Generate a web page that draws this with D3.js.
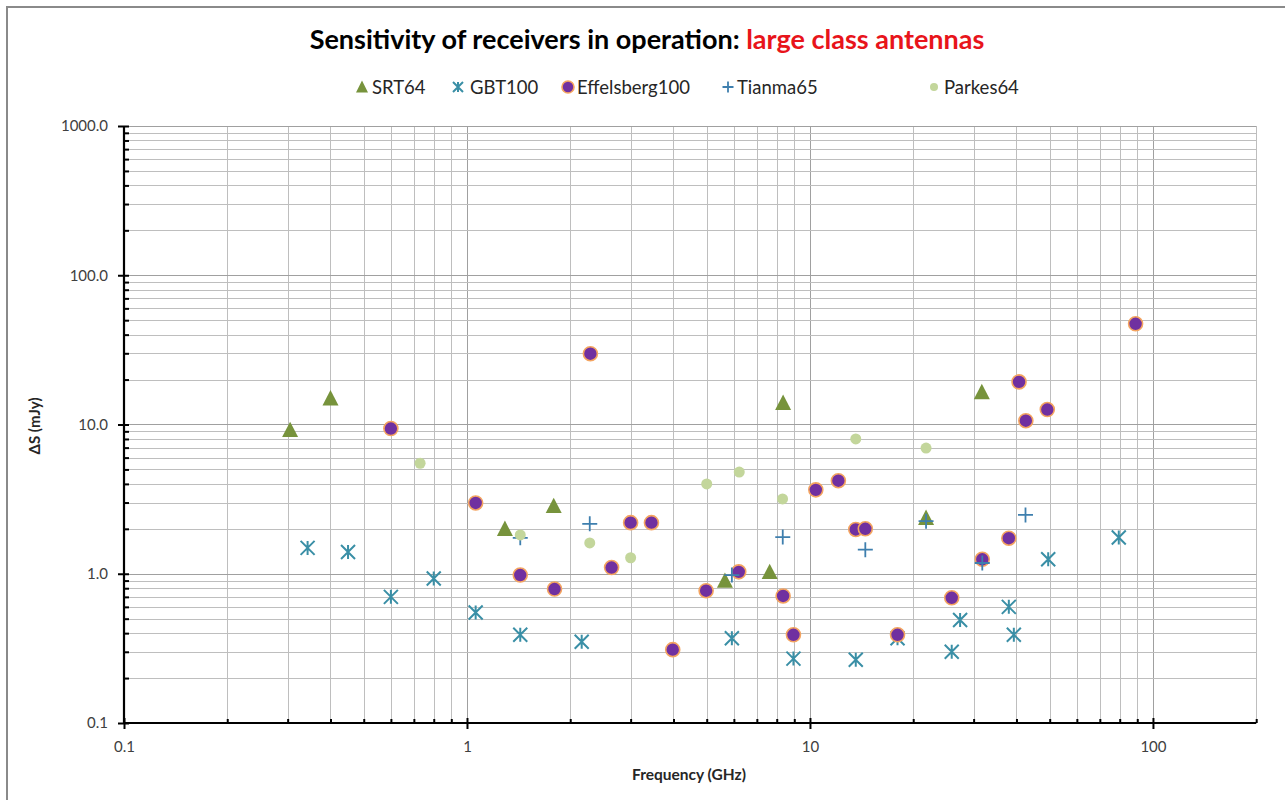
<!DOCTYPE html>
<html>
<head>
<meta charset="utf-8">
<script src="https://cdn.jsdelivr.net/npm/d3@7"></script>
<style>
  html, body { margin: 0; padding: 0; background: #fff; }
  svg { display: block; }
  text { font-family: Lato, "Open Sans", sans-serif; }
</style>
</head>
<body>
<svg id="chart" width="1285" height="800"></svg>
<script>
// ---------------- data (frequency GHz, sensitivity mJy) ----------------
const srt64 = [
  [0.305, 9.2], [0.40, 15.0], [1.29, 2.0], [1.79, 2.85], [5.65, 0.90],
  [7.63, 1.03], [8.35, 14.0], [21.8, 2.37], [31.7, 16.5]
];
const gbt100 = [
  [0.343, 1.49], [0.45, 1.40], [0.60, 0.70], [0.80, 0.93], [1.06, 0.55],
  [1.43, 0.39], [2.16, 0.35], [5.92, 0.37], [8.95, 0.27], [13.6, 0.265],
  [18.0, 0.37], [25.9, 0.30], [27.4, 0.49], [38.0, 0.60], [39.3, 0.39],
  [49.5, 1.25], [79.5, 1.75]
];
const effelsberg100 = [
  [0.60, 9.4], [1.06, 2.98], [1.43, 0.98], [1.80, 0.79], [2.29, 29.8],
  [2.64, 1.10], [3.00, 2.20], [3.45, 2.20], [3.98, 0.31], [4.98, 0.77],
  [6.20, 1.03], [8.35, 0.71], [8.95, 0.39], [10.4, 3.65], [12.1, 4.2],
  [13.6, 1.98], [14.5, 2.0], [18.0, 0.39], [25.9, 0.69], [31.8, 1.25],
  [38.0, 1.73], [40.7, 19.3], [42.6, 10.6], [49.2, 12.6], [89.0, 47.3]
];
const tianma65 = [
  [1.43, 1.74], [2.28, 2.16], [5.92, 0.98], [8.33, 1.76], [14.5, 1.45],
  [21.8, 2.25], [31.8, 1.18], [42.5, 2.48]
];
const parkes64 = [
  [0.73, 5.5], [1.43, 1.82], [2.28, 1.61], [3.00, 1.28], [5.00, 4.0],
  [6.22, 4.8], [8.32, 3.17], [13.6, 8.0], [21.8, 6.95]
];
const seriesNames = ["SRT64", "GBT100", "Effelsberg100", "Tianma65", "Parkes64"];
const xTickValues = [0.1, 1, 10, 100];
const xTickLabels = ["0.1", "1", "10", "100"];
const yTickValues = [0.1, 1, 10, 100, 1000];
const yTickLabels = ["0.1", "1.0", "10.0", "100.0", "1000.0"];
const titleMain = "Sensitivity of receivers in operation: ";
const titleRed = "large class antennas";
const xLabel = "Frequency (GHz)";
const yLabel = "\u0394S (mJy)";

// ---------------- layout ----------------
const svg = d3.select("#chart");
const pLeft = 124, pRight = 1256.2, pTop = 126, pBottom = 723;
const x = d3.scaleLog().domain([0.1, 200]).range([pLeft, pRight]);
const y = d3.scaleLog().domain([0.1, 1000]).range([pBottom, pTop]);

// outer frame
svg.append("rect").attr("x", 7).attr("y", 7).attr("width", 1300).attr("height", 820)
  .attr("fill", "#fff").attr("stroke", "#8a8a8a").attr("stroke-width", 2);

function logGrid(lo, hi) {
  const out = [];
  for (let d = lo; d < hi * 0.999; d *= 10) for (let k = 1; k < 10; k++) out.push(+(d * k).toPrecision(6));
  out.push(hi);
  return out;
}
const xGrid = logGrid(0.1, 100).concat([200]);
const yGrid = logGrid(0.1, 1000);
const isMajor = d => Math.abs(Math.log10(d) - Math.round(Math.log10(d))) < 1e-9;

const g = svg.append("g");
g.selectAll("line.vg").data(xGrid).join("line")
  .attr("x1", d => Math.round(x(d)) + 0.5).attr("x2", d => Math.round(x(d)) + 0.5)
  .attr("y1", pTop).attr("y2", pBottom)
  .attr("stroke", d => isMajor(d) ? "#a0a0a0" : "#bebebe").attr("stroke-width", 1);
g.selectAll("line.hg").data(yGrid).join("line")
  .attr("y1", d => Math.round(y(d)) + 0.5).attr("y2", d => Math.round(y(d)) + 0.5)
  .attr("x1", pLeft).attr("x2", pRight)
  .attr("stroke", d => isMajor(d) ? "#a0a0a0" : "#bebebe").attr("stroke-width", 1);

// axes
const xAxis = d3.axisBottom(x).tickValues(xGrid.filter(d => !isMajor(d))).tickSize(-4).tickFormat("");
const xAx = svg.append("g").attr("transform", `translate(0,${pBottom})`).call(xAxis);
xAx.selectAll("line").attr("stroke", "#000").attr("stroke-width", 2);
xAx.select(".domain").remove();
const xAxisMaj = d3.axisBottom(x).tickValues(xTickValues).tickSize(6).tickFormat((d, i) => xTickLabels[i]).tickPadding(12);
const xAxM = svg.append("g").attr("transform", `translate(0,${pBottom})`).call(xAxisMaj);
xAxM.selectAll(".tick line").attr("stroke", "#000").attr("stroke-width", 2).attr("y1", -5);
xAxM.selectAll("text").attr("fill", "#404040").style("font-size", "15px").attr("font-family", "Lato");
xAxM.select(".domain").attr("stroke", "#000").attr("stroke-width", 2.2).attr("d", `M${pLeft},0H${pRight}`);

const yAxis = d3.axisLeft(y).tickValues(yGrid.filter(d => !isMajor(d))).tickSize(-5).tickFormat("");
const yAx = svg.append("g").attr("transform", `translate(${pLeft},0)`).call(yAxis);
yAx.selectAll("line").attr("stroke", "#000").attr("stroke-width", 2);
yAx.select(".domain").remove();
const yAxisMaj = d3.axisLeft(y).tickValues(yTickValues).tickSize(6).tickFormat((d, i) => yTickLabels[i]).tickPadding(10);
const yAxM = svg.append("g").attr("transform", `translate(${pLeft},0)`).call(yAxisMaj);
yAxM.selectAll(".tick line").attr("stroke", "#000").attr("stroke-width", 2).attr("x1", 5);
yAxM.selectAll("text").attr("fill", "#404040").style("font-size", "15px").attr("font-family", "Lato");
yAxM.select(".domain").attr("stroke", "#000").attr("stroke-width", 2.2).attr("d", `M0,${pBottom}V${pTop}`);

// ---------------- markers ----------------
const cSRT = "#77933C", cGBT = "#3A8FA6", cEff = "#7030A0", cEffStroke = "#F4A460",
      cTian = "#3E7FAE", cPark = "#C3D69B";

function drawTriangle(sel, s) {
  const h = s * 0.9;
  sel.append("path").attr("d", `M0,${-h/2 - 1}L${s/2},${h/2}L${-s/2},${h/2}Z`).attr("fill", cSRT);
}
function drawAsterisk(sel, s) {
  const r = s / 2;
  sel.append("path").attr("d", `M${-r},${-r}L${r},${r}M${-r},${r}L${r},${-r}M0,${-r}V${r}`)
    .attr("stroke", cGBT).attr("stroke-width", 2).attr("fill", "none");
}
function drawEff(sel, r) {
  sel.append("circle").attr("r", r).attr("fill", cEff).attr("stroke", cEffStroke).attr("stroke-width", 1.6);
}
function drawPlus(sel, s) {
  const r = s / 2;
  sel.append("path").attr("d", `M${-r},0H${r}M0,${-r}V${r}`)
    .attr("stroke", cTian).attr("stroke-width", 1.8).attr("fill", "none");
}
function drawPark(sel, r) {
  sel.append("circle").attr("r", r).attr("fill", cPark);
}

const plot = svg.append("g");
function plotSeries(data, fn, size) {
  plot.append("g").selectAll("g").data(data).join("g")
    .attr("transform", d => `translate(${x(d[0])},${y(d[1])})`)
    .each(function () { fn(d3.select(this), size); });
}
plotSeries(srt64, drawTriangle, 16);
plotSeries(gbt100, drawAsterisk, 14);
plotSeries(effelsberg100, drawEff, 7);
plotSeries(tianma65, drawPlus, 15);
plotSeries(parkes64, drawPark, 5.5);

// ---------------- title ----------------
const title = svg.append("text").attr("x", 647).attr("y", 49).attr("text-anchor", "middle")
  .style("font-size", "23px").style("font-weight", "bold");
title.append("tspan").attr("fill", "#000").text(titleMain);
title.append("tspan").attr("fill", "#E8141B").text(titleRed);
const tw = title.node().getComputedTextLength();
title.style("font-size", (23 * 675 / tw).toFixed(2) + "px");

// ---------------- legend ----------------
const legendX = [362, 458, 568, 728, 934];
const legendTextX = [372, 470, 577, 737, 944];
const legendFns = [
  s => drawTriangle(s, 12), s => drawAsterisk(s, 10), s => drawEff(s, 6),
  s => drawPlus(s, 11), s => drawPark(s, 4)
];
seriesNames.forEach((name, i) => {
  const lg = svg.append("g").attr("transform", `translate(${legendX[i]},87)`);
  legendFns[i](lg);
  svg.append("text").attr("x", legendTextX[i]).attr("y", 93.5)
    .attr("fill", "#262626").style("font-size", "18.5px").text(name);
});

// ---------------- axis titles ----------------
svg.append("text").attr("x", 689).attr("y", 780).attr("text-anchor", "middle")
  .style("font-size", "15.5px").style("font-weight", "bold").attr("fill", "#262626").text(xLabel);
svg.append("text").attr("transform", "translate(40,426) rotate(-90)").attr("text-anchor", "middle")
  .style("font-size", "15px").style("font-weight", "bold").attr("fill", "#262626").text(yLabel);
</script>
</body>
</html>
